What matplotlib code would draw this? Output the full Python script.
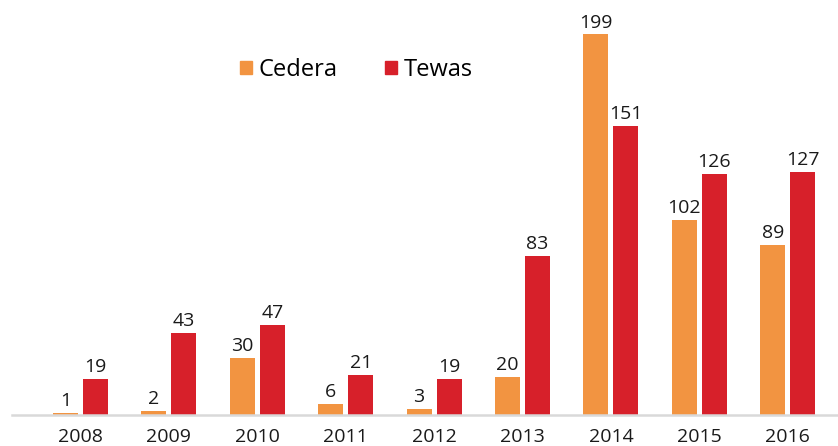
import matplotlib.pyplot as plt
import numpy as np
from matplotlib.patches import Patch

years = ['2008', '2009', '2010', '2011', '2012', '2013', '2014', '2015', '2016']
cedera = [1, 2, 30, 6, 3, 20, 199, 102, 89]
tewas = [19, 43, 47, 21, 19, 83, 151, 126, 127]

orange = '#F29441'
red = '#D7202A'

plt.rcParams['font.family'] = ['Open Sans', 'DejaVu Sans']

fig = plt.figure(figsize=(8.38, 4.46), dpi=100)
ax = fig.add_axes([12 / 838, 31 / 446, 826 / 838, 415 / 446])

x = np.arange(len(years))
w = 0.283
off = 0.17
b1 = ax.bar(x - off, cedera, w, color=orange)
b2 = ax.bar(x + off, tewas, w, color=red)

for bars, vals in ((b1, cedera), (b2, tewas)):
    for b, v in zip(bars, vals):
        ax.annotate(str(v), (b.get_x() + b.get_width() / 2, v),
                    xytext=(0, 2), textcoords='offset points',
                    ha='center', va='bottom', fontsize=14, color='#1a1a1a')

ax.set_xlim(-0.775, 8.569)
ax.set_ylim(0, 217)
ax.set_xticks(x)
ax.set_xticklabels(years, fontsize=14, color='#1a1a1a')
ax.tick_params(axis='x', length=0, pad=9)
ax.set_yticks([])
for s in ['top', 'right', 'left']:
    ax.spines[s].set_visible(False)
ax.spines['bottom'].set_color('#d9d9d9')
ax.spines['bottom'].set_linewidth(1.8)

handles = [Patch(color=orange, label='Cedera'), Patch(color=red, label='Tewas')]
fig.legend(handles=handles, loc='center left', bbox_to_anchor=(240 / 838, 1 - 70 / 446),
           ncol=2, frameon=False, fontsize=17, handlelength=0.5, handleheight=0.5,
           handletextpad=0.3, columnspacing=2.0, borderaxespad=0, borderpad=0)

fig.savefig('out.png', dpi=100)
